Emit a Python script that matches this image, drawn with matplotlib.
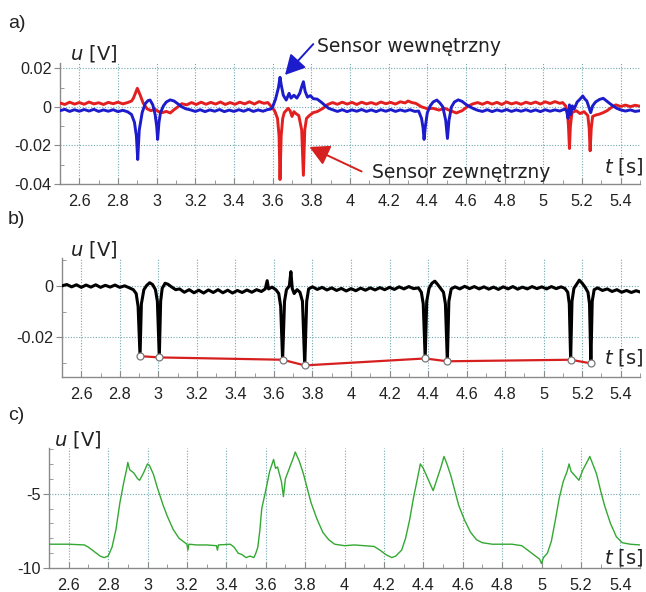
import numpy as np
import matplotlib
matplotlib.use("Agg")
import matplotlib.pyplot as plt
from matplotlib.ticker import MultipleLocator, FixedLocator, FuncFormatter

# panel a) - two sensors
a_red_t = [2.50, 2.525, 2.55, 2.575, 2.60, 2.625, 2.65, 2.675, 2.70, 2.725, 2.75, 2.775, 2.80, 2.825,
           2.85, 2.87, 2.88, 2.90, 2.915, 2.93, 2.95, 2.97, 2.99, 3.01, 3.03, 3.05, 3.07, 3.09, 3.11,
           3.13, 3.155, 3.18, 3.205, 3.23, 3.255, 3.28, 3.305, 3.33, 3.355, 3.38, 3.405, 3.43, 3.455,
           3.48, 3.505, 3.53, 3.555, 3.575, 3.59, 3.61, 3.625, 3.633, 3.638, 3.644, 3.652, 3.66, 3.68,
           3.69, 3.70, 3.71, 3.72, 3.735, 3.75, 3.759, 3.766, 3.775, 3.79, 3.81, 3.83, 3.86, 3.885,
           3.91, 3.935, 3.96, 3.985, 4.01, 4.035, 4.06, 4.085, 4.11, 4.135, 4.16, 4.185, 4.21, 4.235,
           4.26, 4.285, 4.30, 4.32, 4.34, 4.37, 4.40, 4.43, 4.46, 4.49, 4.52, 4.55, 4.58, 4.61, 4.635,
           4.66, 4.685, 4.71, 4.735, 4.76, 4.785, 4.81, 4.835, 4.86, 4.885, 4.91, 4.935, 4.96, 4.985,
           5.01, 5.035, 5.06, 5.085, 5.10, 5.115, 5.125, 5.13, 5.135, 5.14, 5.148, 5.17, 5.19, 5.21,
           5.23, 5.237, 5.242, 5.248, 5.255, 5.27, 5.29, 5.31, 5.33, 5.35, 5.375, 5.40, 5.425, 5.45,
           5.475, 5.50]
a_red_u = [0.0020, 0.0012, 0.0024, 0.0014, 0.0022, 0.0013, 0.0025, 0.0015, 0.0021, 0.0012, 0.0023,
           0.0016, 0.0024, 0.0015, 0.0022, 0.0030, 0.0045, 0.0096, 0.0060, 0.0020, -0.0010, -0.0020,
           -0.0012, -0.0025, -0.0030, -0.0024, -0.0032, -0.0015, 0.0000, 0.0016, 0.0010, 0.0022,
           0.0012, 0.0024, 0.0013, 0.0023, 0.0014, 0.0025, 0.0012, 0.0022, 0.0013, 0.0024, 0.0015,
           0.0026, 0.0014, 0.0027, 0.0018, 0.0022, 0.0005, -0.0020, -0.0060, -0.0150, -0.0377,
           -0.0150, -0.0060, -0.0030, -0.0008, -0.0020, -0.0050, -0.0025, -0.0035, -0.0045, -0.0120,
           -0.0355, -0.0120, -0.0060, -0.0045, -0.0030, -0.0025, -0.0008, 0.0012, 0.0022, 0.0013,
           0.0024, 0.0014, 0.0023, 0.0012, 0.0024, 0.0015, 0.0022, 0.0013, 0.0025, 0.0016, 0.0023,
           0.0014, 0.0026, 0.0020, 0.0030, 0.0022, 0.0018, 0.0000, -0.0010, -0.0008, -0.0017,
           -0.0008, -0.0020, -0.0032, -0.0020, 0.0003, 0.0015, 0.0022, 0.0013, 0.0024, 0.0014,
           0.0023, 0.0012, 0.0025, 0.0015, 0.0022, 0.0013, 0.0024, 0.0016, 0.0025, 0.0014, 0.0026,
           0.0017, 0.0027, 0.0018, 0.0022, 0.0005, -0.0030, -0.0100, -0.0216, -0.0100, -0.0030,
           -0.0020, -0.0035, -0.0025, -0.0045, -0.0110, -0.0228, -0.0110, -0.0050, -0.0043, -0.0038,
           -0.0030, -0.0020, -0.0005, 0.0010, 0.0002, 0.0009, 0.0001, 0.0008, 0.0003]

a_blue_t = [2.50, 2.525, 2.55, 2.575, 2.60, 2.625, 2.65, 2.675, 2.70, 2.725, 2.75, 2.775, 2.80,
            2.825, 2.85, 2.87, 2.885, 2.895, 2.902, 2.91, 2.925, 2.94, 2.955, 2.966, 2.98, 2.992,
            3.00, 3.005, 3.012, 3.02, 3.035, 3.05, 3.07, 3.09, 3.11, 3.13, 3.15, 3.175, 3.20, 3.225,
            3.25, 3.275, 3.30, 3.325, 3.35, 3.375, 3.40, 3.425, 3.45, 3.475, 3.50, 3.525, 3.55,
            3.575, 3.59, 3.60, 3.615, 3.63, 3.638, 3.645, 3.655, 3.67, 3.685, 3.695, 3.71, 3.725,
            3.74, 3.752, 3.759, 3.768, 3.78, 3.795, 3.81, 3.83, 3.85, 3.87, 3.89, 3.91, 3.935, 3.96,
            3.985, 4.01, 4.035, 4.06, 4.085, 4.11, 4.135, 4.16, 4.185, 4.21, 4.235, 4.26, 4.285,
            4.31, 4.335, 4.355, 4.37, 4.378, 4.383, 4.39, 4.40, 4.415, 4.43, 4.449, 4.465, 4.48,
            4.495, 4.504, 4.512, 4.525, 4.54, 4.56, 4.58, 4.60, 4.62, 4.64, 4.66, 4.685, 4.71, 4.735,
            4.76, 4.785, 4.81, 4.835, 4.86, 4.885, 4.91, 4.935, 4.96, 4.985, 5.01, 5.035, 5.06,
            5.085, 5.11, 5.12, 5.128, 5.135, 5.142, 5.15, 5.16, 5.175, 5.19, 5.204, 5.215, 5.225,
            5.235, 5.245, 5.255, 5.27, 5.29, 5.31, 5.325, 5.34, 5.36, 5.38, 5.40, 5.425, 5.45,
            5.475, 5.50]
a_blue_u = [-0.0020, -0.0013, -0.0024, -0.0015, -0.0023, -0.0014, -0.0022, -0.0013, -0.0024,
            -0.0016, -0.0023, -0.0015, -0.0025, -0.0018, -0.0026, -0.0040, -0.0080, -0.0150,
            -0.0273, -0.0120, -0.0030, 0.0015, 0.0032, 0.0035, 0.0010, -0.0040, -0.0100, -0.0169,
            -0.0080, -0.0030, 0.0005, 0.0025, 0.0036, 0.0030, 0.0015, 0.0000, -0.0010, -0.0016,
            -0.0024, -0.0015, -0.0025, -0.0016, -0.0023, -0.0014, -0.0025, -0.0017, -0.0024,
            -0.0015, -0.0023, -0.0013, -0.0024, -0.0016, -0.0023, -0.0014, -0.0012, 0.0000, 0.0040,
            0.0100, 0.0153, 0.0110, 0.0060, 0.0035, 0.0070, 0.0045, 0.0060, 0.0045, 0.0070, 0.0110,
            0.0130, 0.0080, 0.0050, 0.0058, 0.0042, 0.0040, 0.0025, 0.0008, -0.0008, -0.0015,
            -0.0024, -0.0015, -0.0025, -0.0016, -0.0023, -0.0014, -0.0024, -0.0016, -0.0025,
            -0.0015, -0.0023, -0.0014, -0.0024, -0.0016, -0.0023, -0.0015, -0.0024, -0.0022,
            -0.0060, -0.0110, -0.0169, -0.0100, -0.0030, 0.0005, 0.0025, 0.0035, 0.0020, 0.0000,
            -0.0070, -0.0164, -0.0070, 0.0000, 0.0025, 0.0036, 0.0028, 0.0012, 0.0000, -0.0010,
            -0.0018, -0.0024, -0.0015, -0.0025, -0.0016, -0.0023, -0.0014, -0.0024, -0.0016,
            -0.0023, -0.0015, -0.0024, -0.0016, -0.0025, -0.0015, -0.0023, -0.0016, -0.0022,
            -0.0012, -0.0020, -0.0060, 0.0010, -0.0040, 0.0005, -0.0010, 0.0025, 0.0040, 0.0056,
            0.0040, 0.0030, 0.0000, -0.0030, 0.0005, 0.0025, 0.0038, 0.0044, 0.0032, 0.0020, 0.0005,
            -0.0008, -0.0016, -0.0022, -0.0016, -0.0024, -0.0020]

# panel b) - difference signal and its minima
b_t = [2.50, 2.525, 2.55, 2.575, 2.60, 2.625, 2.65, 2.675, 2.70, 2.725, 2.75, 2.775, 2.80, 2.825,
       2.85, 2.87, 2.885, 2.895, 2.905, 2.912, 2.925, 2.94, 2.955, 2.97, 2.985, 2.995, 3.005, 3.012,
       3.02, 3.035, 3.05, 3.07, 3.09, 3.11, 3.135, 3.16, 3.185, 3.21, 3.235, 3.26, 3.285, 3.31,
       3.335, 3.36, 3.385, 3.41, 3.435, 3.46, 3.485, 3.51, 3.535, 3.555, 3.565, 3.572, 3.59, 3.61,
       3.625, 3.635, 3.645, 3.655, 3.665, 3.68, 3.688, 3.695, 3.705, 3.72, 3.735, 3.748, 3.76,
       3.77, 3.78, 3.80, 3.825, 3.85, 3.875, 3.90, 3.925, 3.95, 3.975, 4.00, 4.025, 4.05, 4.075,
       4.10, 4.125, 4.15, 4.175, 4.20, 4.225, 4.25, 4.275, 4.30, 4.325, 4.35, 4.365, 4.375, 4.385,
       4.393, 4.405, 4.42, 4.435, 4.45, 4.465, 4.48, 4.49, 4.50, 4.508, 4.52, 4.54, 4.565, 4.59,
       4.615, 4.64, 4.665, 4.69, 4.715, 4.74, 4.765, 4.79, 4.815, 4.84, 4.865, 4.89, 4.915, 4.94,
       4.965, 4.99, 5.015, 5.04, 5.065, 5.09, 5.11, 5.125, 5.133, 5.14, 5.147, 5.157, 5.17, 5.185,
       5.20, 5.215, 5.23, 5.238, 5.245, 5.252, 5.262, 5.28, 5.305, 5.33, 5.355, 5.38, 5.405, 5.43,
       5.455, 5.48, 5.50]
b_u = [0.0000, 0.0005, -0.0004, 0.0004, -0.0006, 0.0003, -0.0005, 0.0004, -0.0006, 0.0002,
       -0.0005, 0.0003, -0.0006, 0.0000, -0.0008, -0.0015, -0.0030, -0.0080, -0.0273, -0.0070,
       -0.0015, 0.0002, 0.0012, 0.0005, -0.0015, -0.0060, -0.0278, -0.0060, -0.0010, 0.0010,
       0.0006, -0.0005, -0.0015, -0.0012, -0.0025, -0.0015, -0.0027, -0.0017, -0.0028, -0.0016,
       -0.0026, -0.0015, -0.0027, -0.0017, -0.0028, -0.0018, -0.0026, -0.0016, -0.0025, -0.0015,
       -0.0022, -0.0012, 0.0020, -0.0012, -0.0005, -0.0015, -0.0030, -0.0080, -0.0287, -0.0060,
       -0.0015, 0.0000, 0.0055, -0.0010, -0.0030, -0.0015, -0.0025, -0.0060, -0.0309, -0.0060,
       -0.0012, -0.0004, -0.0014, -0.0006, -0.0016, -0.0008, -0.0018, -0.0010, -0.0020, -0.0011,
       -0.0019, -0.0009, -0.0017, -0.0008, -0.0016, -0.0007, -0.0015, -0.0006, -0.0014, -0.0004,
       -0.0012, -0.0003, -0.0011, -0.0008, -0.0025, -0.0070, -0.0282, -0.0060, -0.0010, 0.0010,
       0.0018, 0.0005, -0.0010, -0.0025, -0.0070, -0.0293, -0.0060, -0.0012, -0.0004, -0.0012,
       -0.0002, -0.0011, -0.0003, -0.0012, -0.0004, -0.0013, -0.0005, -0.0014, -0.0004, -0.0012,
       -0.0003, -0.0013, -0.0005, -0.0012, -0.0003, -0.0011, -0.0004, -0.0012, -0.0003, -0.0011,
       -0.0004, -0.0010, -0.0025, -0.0070, -0.0287, -0.0060, -0.0010, 0.0005, 0.0022, 0.0010,
       -0.0005, -0.0025, -0.0070, -0.0301, -0.0060, -0.0015, -0.0008, -0.0018, -0.0012, -0.0022,
       -0.0015, -0.0025, -0.0018, -0.0026, -0.0019, -0.0024]

min_t = [2.905, 3.005, 3.645, 3.76, 4.385, 4.50, 5.14, 5.245]
min_u = [-0.0273, -0.0278, -0.0287, -0.0309, -0.0282, -0.0293, -0.0287, -0.0301]

# panel c)
c_t = [2.50, 2.60, 2.68, 2.70, 2.73, 2.76, 2.78, 2.80, 2.82, 2.84, 2.86, 2.88, 2.895, 2.90, 2.91,
       2.93, 2.95, 2.96, 2.98, 3.00, 3.01, 3.03, 3.05, 3.08, 3.10, 3.13, 3.16, 3.19, 3.20, 3.205,
       3.21, 3.25, 3.30, 3.35, 3.355, 3.36, 3.42, 3.44, 3.46, 3.48, 3.50, 3.52, 3.54, 3.55, 3.56,
       3.57, 3.58, 3.60, 3.62, 3.64, 3.65, 3.66, 3.68, 3.69, 3.70, 3.72, 3.74, 3.75, 3.76, 3.77,
       3.79, 3.81, 3.83, 3.86, 3.89, 3.92, 3.95, 4.00, 4.05, 4.10, 4.15, 4.18, 4.21, 4.24, 4.26,
       4.29, 4.31, 4.33, 4.35, 4.37, 4.385, 4.40, 4.42, 4.44, 4.45, 4.47, 4.49, 4.505, 4.52, 4.54,
       4.56, 4.58, 4.61, 4.64, 4.67, 4.70, 4.75, 4.80, 4.85, 4.90, 4.93, 4.96, 4.99, 5.00, 5.01,
       5.03, 5.05, 5.07, 5.09, 5.11, 5.13, 5.14, 5.15, 5.17, 5.19, 5.21, 5.23, 5.245, 5.26, 5.28,
       5.30, 5.32, 5.35, 5.38, 5.41, 5.45, 5.50]
c_u = [-8.40, -8.40, -8.45, -8.60, -8.90, -9.20, -9.30, -9.20, -8.60, -7.40, -5.60, -4.20, -3.30,
       -2.90, -3.40, -3.60, -4.00, -4.10, -3.60, -3.00, -3.10, -3.70, -4.60, -5.80, -6.50, -7.40,
       -8.00, -8.30, -8.40, -8.80, -8.40, -8.45, -8.45, -8.50, -8.80, -8.45, -8.40, -8.60, -9.00,
       -9.10, -9.30, -9.20, -9.30, -9.00, -8.60, -7.50, -6.00, -4.80, -3.50, -2.70, -3.30, -3.20,
       -4.20, -5.20, -4.00, -3.30, -2.60, -2.20, -2.50, -2.80, -3.60, -4.60, -5.60, -6.70, -7.60,
       -8.10, -8.40, -8.50, -8.45, -8.50, -8.55, -8.80, -9.10, -9.30, -9.20, -8.80, -8.00, -6.80,
       -5.30, -4.00, -3.00, -3.30, -3.90, -4.50, -4.80, -4.00, -3.20, -2.50, -3.00, -3.80, -4.80,
       -5.80, -6.80, -7.60, -8.10, -8.30, -8.40, -8.40, -8.40, -8.50, -8.80, -9.10, -9.40, -9.70,
       -9.30, -9.00, -8.20, -6.80, -5.30, -4.20, -3.50, -3.00, -3.50, -3.80, -4.10, -3.40, -2.90,
       -2.50, -3.00, -3.70, -4.80, -5.80, -7.00, -7.90, -8.30, -8.40, -8.45]

x_ticks = [2.6, 2.8, 3.0, 3.2, 3.4, 3.6, 3.8, 4.0, 4.2, 4.4, 4.6, 4.8, 5.0, 5.2, 5.4]

W, H = 646, 592
plt.rcParams['axes.unicode_minus'] = False
plt.rcParams['mathtext.fontset'] = 'dejavusans'
fig = plt.figure(figsize=(W / 100, H / 100), dpi=100)

tick_font = 'Liberation Sans'
grid_col = '#6fa8b0'
txt_col = '#222222'


def box(left, top, right, bottom):
    return [left / W, 1 - bottom / H, (right - left) / W, (bottom - top) / H]


def style(ax, yticks, ygrid, yminor, ylim):
    ax.set_xlim(2.5, 5.5)
    ax.set_ylim(*ylim)
    for s in ['top', 'right']:
        ax.spines[s].set_visible(False)
    for s in ['left', 'bottom']:
        ax.spines[s].set_color('#8a8a8a')
        ax.spines[s].set_linewidth(1.0)
    ax.xaxis.set_major_locator(FixedLocator(x_ticks))
    ax.xaxis.set_minor_locator(MultipleLocator(0.1))
    ax.yaxis.set_major_locator(FixedLocator(yticks))
    ax.yaxis.set_minor_locator(MultipleLocator(yminor))
    fmt = FuncFormatter(lambda v, p: '%g' % round(v, 4))
    ax.xaxis.set_major_formatter(fmt)
    ax.yaxis.set_major_formatter(fmt)
    ax.tick_params(axis='x', which='major', direction='in', length=4, pad=7, color='#8a8a8a')
    ax.tick_params(axis='x', which='minor', direction='in', length=3, color='#8a8a8a')
    ax.tick_params(axis='y', which='major', direction='out', length=4, pad=2, color='#8a8a8a')
    ax.tick_params(axis='y', which='minor', direction='in', length=3, color='#8a8a8a')
    for lab in ax.get_xticklabels() + ax.get_yticklabels():
        lab.set_fontfamily(tick_font)
        lab.set_fontsize(11.7)
        lab.set_color('#222222')
    for xv in x_ticks:
        ax.axvline(xv, color=grid_col, lw=0.8, ls=(0, (1, 1.5)), zorder=0)
    for yv in ygrid:
        ax.axhline(yv, color=grid_col, lw=0.8, ls=(0, (1, 1.5)), zorder=0)


def ftext(x, y, s, **kw):
    fig.text(x / W, 1 - y / H, s, va='center', color=txt_col, **kw)


# a)
ax1 = fig.add_axes(box(60, 63, 640, 184))
style(ax1, [-0.04, -0.02, 0, 0.02], [-0.02, 0, 0.02], 0.01, (-0.04, 0.0227))
ax1.plot(a_red_t, a_red_u, color='#e41f1f', lw=2.1, zorder=3)
ax1.plot(a_blue_t, a_blue_u, color='#1c1ccc', lw=2.1, zorder=4)
ax1.annotate('', xy=(3.664, 0.0165), xytext=(3.81, 0.0325),
             arrowprops=dict(arrowstyle='-|>,head_length=0.6,head_width=0.32', color='#1c1ccc',
                             lw=1.4, mutation_scale=20, shrinkA=0, shrinkB=0),
             annotation_clip=False, zorder=5)
ax1.annotate('', xy=(3.79, -0.0208), xytext=(4.06, -0.0335),
             arrowprops=dict(arrowstyle='-|>,head_length=0.6,head_width=0.32', color='#d62020',
                             lw=1.4, mutation_scale=20, shrinkA=0, shrinkB=0),
             annotation_clip=False, zorder=5)

# b)
ax2 = fig.add_axes(box(62, 258, 640, 377))
style(ax2, [-0.02, 0], [-0.02, 0], 0.01, (-0.0354, 0.0108))
ax2.plot(b_t, b_u, color='black', lw=2.2, zorder=3)
ax2.plot(min_t, min_u, color='#d62020', lw=1.6, zorder=4)
ax2.plot(min_t, min_u, 'o', ms=5, mfc='white', mec='#777777', mew=0.9, zorder=5)

# c)
ax3 = fig.add_axes(box(49, 448, 640, 568))
style(ax3, [-10, -5], [-5], 1, (-10, -1.93))
ax3.plot(c_t, c_u, color='#33a833', lw=1.0, zorder=3)

# labels
ftext(8, 23, 'a)', fontsize=14, family=tick_font)
ftext(8, 220, 'b)', fontsize=14, family=tick_font)
ftext(8, 415, 'c)', fontsize=14, family=tick_font)
ftext(70, 53, '$u$ [V]', fontsize=14)
ftext(70, 249, '$u$ [V]', fontsize=14)
ftext(54, 440, '$u$ [V]', fontsize=14)
ftext(643, 166, '$t$ [s]', fontsize=14, ha='right')
ftext(643, 357, '$t$ [s]', fontsize=14, ha='right')
ftext(643, 557, '$t$ [s]', fontsize=14, ha='right')
ftext(317, 46, 'Sensor wewnętrzny', fontsize=13.5)
ftext(372, 172, 'Sensor zewnętrzny', fontsize=13.5)

fig.savefig('out.png', dpi=100)
